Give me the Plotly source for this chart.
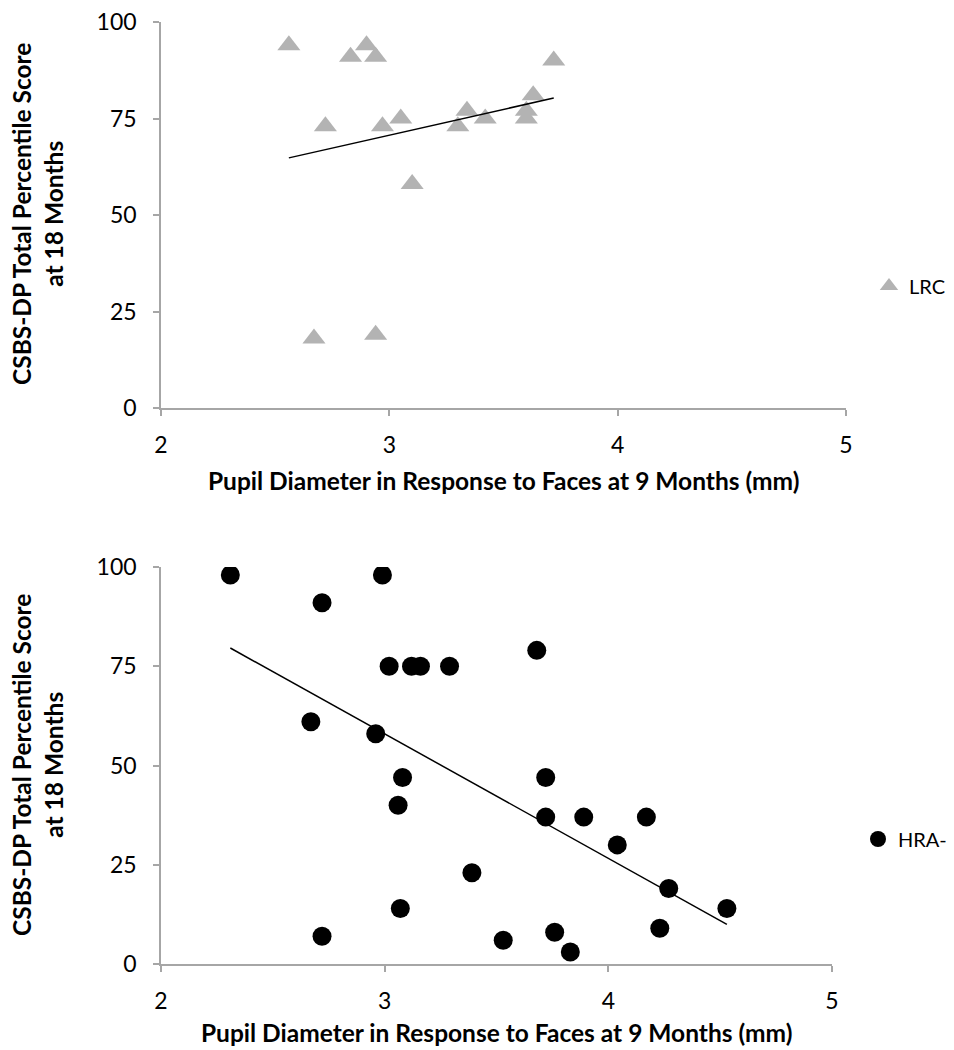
import plotly.graph_objects as go
from plotly.subplots import make_subplots

# LRC group (top panel): pupil diameter (mm) vs CSBS-DP percentile
lrc_pupil = [2.56, 2.67, 2.72, 2.83, 2.90, 2.94, 2.94, 2.97, 3.05, 3.10,
             3.30, 3.34, 3.42, 3.60, 3.60, 3.63, 3.72]
lrc_score = [94, 18, 73, 91, 94, 91, 19, 73, 75, 58,
             73, 77, 75, 75, 77, 81, 90]
lrc_trend_x = [2.56, 3.72]
lrc_trend_y = [64.8, 80.3]

# HRA- group (bottom panel)
hra_pupil = [2.31, 2.67, 2.72, 2.72, 2.96, 2.99, 3.02, 3.06, 3.07, 3.08,
             3.12, 3.16, 3.29, 3.39, 3.53, 3.68, 3.72, 3.72, 3.76, 3.83,
             3.89, 4.04, 4.17, 4.23, 4.27, 4.53]
hra_score = [98, 61, 91, 7, 58, 98, 75, 40, 14, 47,
             75, 75, 75, 23, 6, 79, 47, 37, 8, 3,
             37, 30, 37, 9, 19, 14]
hra_trend_x = [2.31, 4.53]
hra_trend_y = [79.6, 10.0]

x_ticks = [2, 3, 4, 5]
y_ticks = [0, 25, 50, 75, 100]

x_title = "Pupil Diameter in Response to Faces at 9 Months (mm)"
y_title = "CSBS-DP Total Percentile Score<br>at 18 Months"

FONT = "Lato"
AXIS_GREY = "#a6a6a6"
W, H = 954, 1050
OFF = 8  # page body margin shifts the whole figure


def px(x):
    return (x - OFF) / W


def py(y):
    return 1 - (y - OFF) / H


fig = make_subplots(rows=2, cols=1)

# top panel
fig.add_trace(go.Scatter(
    x=lrc_pupil, y=lrc_score, mode="markers", name="LRC",
    marker=dict(symbol="triangle-up", size=20, color="#b3b3b3"),
    legend="legend"
), row=1, col=1)
fig.add_trace(go.Scatter(
    x=lrc_trend_x, y=lrc_trend_y, mode="lines", showlegend=False,
    line=dict(color="black", width=1.5)
), row=1, col=1)

# bottom panel
fig.add_trace(go.Scatter(
    x=hra_pupil, y=hra_score, mode="markers", name="HRA-",
    marker=dict(symbol="circle", size=19, color="black"),
    legend="legend2"
), row=2, col=1)
fig.add_trace(go.Scatter(
    x=hra_trend_x, y=hra_trend_y, mode="lines", showlegend=False,
    line=dict(color="black", width=1.5)
), row=2, col=1)

axis_common = dict(
    showline=True, linecolor=AXIS_GREY, linewidth=1.5,
    ticks="outside", tickcolor=AXIS_GREY, ticklen=6, tickwidth=1.5,
    showgrid=False, zeroline=False, automargin=False,
    ticklabeloverflow="allow",
    tickfont=dict(family=FONT, size=23, color="black"),
)

fig.update_xaxes(range=[2, 5], tickvals=x_ticks, ticklabelstandoff=10, **axis_common)
fig.update_yaxes(range=[0, 100], tickvals=y_ticks, ticklabelstandoff=12, **axis_common)

# pixel-based placement of the two panels
fig.update_layout(
    xaxis=dict(domain=[px(161), px(846)]),
    yaxis=dict(domain=[py(408), py(22)]),
    xaxis2=dict(domain=[px(161), px(832)]),
    yaxis2=dict(domain=[py(964), py(567)]),
)

title_font = dict(family=FONT, size=24.5, color="black", weight="bold")
for xc, yc in [((161 + 846) / 2, 480), ((161 + 832) / 2, 1032)]:
    fig.add_annotation(text=x_title, x=px(xc), y=py(yc), xref="paper", yref="paper",
                       showarrow=False, xanchor="center", yanchor="middle", font=title_font)
for yc in [214, 765]:
    fig.add_annotation(text=y_title, x=px(37), y=py(yc), xref="paper", yref="paper",
                       showarrow=False, xanchor="center", yanchor="middle", textangle=-90,
                       font=title_font)

legend_style = dict(xanchor="left", yanchor="middle", bgcolor="rgba(0,0,0,0)",
                    font=dict(family=FONT, size=20, color="black"), itemwidth=30)
fig.update_layout(
    width=W, height=H,
    margin=dict(l=0, r=0, t=0, b=0),
    paper_bgcolor="white", plot_bgcolor="white",
    font=dict(family=FONT, color="black"),
    legend=dict(x=px(869), y=py(286), **legend_style),
    legend2=dict(x=px(858), y=py(839), **legend_style),
)

fig.write_html("out.html")
